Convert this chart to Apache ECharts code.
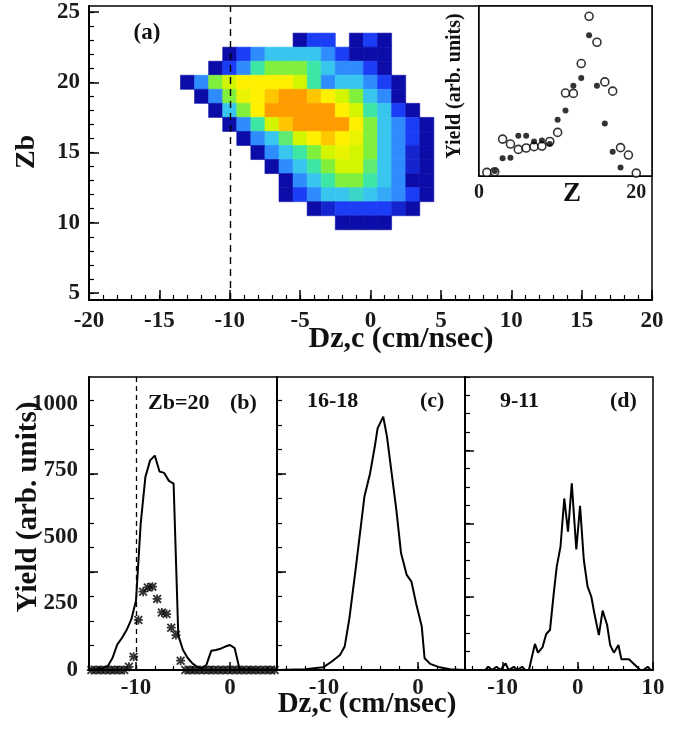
<!DOCTYPE html>
<html>
<head>
<meta charset="utf-8">
<script src="https://cdn.jsdelivr.net/npm/echarts@6/dist/echarts.min.js"></script>
<style>
  html, body { margin: 0; padding: 0; background: #fff; }
  #chart { width: 678px; height: 730px; }
</style>
</head>
<body>
<div id="chart"></div>
<script>
// ---------------- (a) Zb vs Dz,c, contour levels read on a 1x1 grid (0 = empty) ----------------
var dzCols = [-14, -13, -12, -11, -10, -9, -8, -7, -6, -5, -4, -3, -2, -1, 0, 1, 2, 3, 4, 5]
var zbRows = [23, 22, 21, 20, 19, 18, 17, 16, 15, 14, 13, 12, 11, 10]
var density = [
  [0, 0, 0, 0, 0, 0, 0, 0, 0, 1, 2, 2, 0, 1, 2, 1, 0, 0, 0, 0],
  [0, 0, 0, 0, 1, 2, 3, 4, 4, 4, 4, 3, 2, 1, 1, 1, 0, 0, 0, 0],
  [0, 0, 0, 1, 2, 3, 5, 6, 6, 6, 5, 4, 3, 3, 2, 1, 0, 0, 0, 0],
  [0, 1, 3, 6, 7, 8, 8, 8, 8, 7, 5, 3, 4, 4, 3, 2, 1, 0, 0, 0],
  [0, 0, 1, 3, 6, 7.5, 8, 8.5, 9, 9, 8.5, 8, 7, 6, 4, 3, 1, 0, 0, 0],
  [0, 0, 0, 1, 4, 6, 8, 9, 9, 9, 9, 9, 8, 7, 5, 4, 2, 1, 0, 0],
  [0, 0, 0, 0, 1, 3, 5, 7, 8.5, 9, 9, 9, 9, 8, 6, 4, 3, 2, 1, 0],
  [0, 0, 0, 0, 0, 1, 3, 4, 5.5, 7, 8, 8.5, 8, 7.5, 6, 4, 3, 2, 1, 0],
  [0, 0, 0, 0, 0, 0, 1, 3, 4, 5, 6, 7, 7.5, 7, 6, 4, 3, 1.5, 1, 0],
  [0, 0, 0, 0, 0, 0, 0, 1, 3, 4, 5, 6, 7, 7, 5.5, 4, 3, 1.5, 1, 0],
  [0, 0, 0, 0, 0, 0, 0, 0, 1, 3, 4, 5, 6, 6, 5, 4, 3, 1, 1, 0],
  [0, 0, 0, 0, 0, 0, 0, 0, 1, 2, 3, 4, 4, 4.5, 4, 3.5, 3, 2, 1, 0],
  [0, 0, 0, 0, 0, 0, 0, 0, 0, 0, 1, 1.5, 2, 2, 2, 2, 1.5, 1, 0, 0],
  [0, 0, 0, 0, 0, 0, 0, 0, 0, 0, 0, 0, 1, 1, 1, 1, 0, 0, 0, 0]
]
var levelColors = ['#0c0ca8', '#1b3df5', '#2e8cff', '#38c6ee', '#3ee6a6', '#80f03c', '#d4f500', '#fff000', '#ff9c00']

// inset: yield vs Z (arb. units)
var insetZ = [1, 2, 3, 4, 5, 6, 7, 8, 9, 10, 11, 12, 13, 14, 15, 16, 17, 18, 19, 20]
var insetOpen = [0.21, 0.25, 2.15, 1.86, 1.55, 1.63, 1.71, 1.74, 2.01, 2.54, 4.83, 4.81, 6.55, 9.3, 7.79, 5.48, 4.94, 1.65, 1.22, 0.17]
var filledZ = [2, 3, 4, 5, 6, 7, 8, 9, 10, 11, 12, 13, 14, 15, 16, 17, 18]
var insetFilled = [0.29, 1.03, 1.07, 2.35, 2.35, 2.01, 2.07, 1.86, 3.28, 3.82, 5.25, 5.7, 8.2, 5.25, 3.06, 1.41, 0.5]

// (b) Zb=20
var bDz = [-15, -14.5, -14, -13.5, -13, -12.5, -12, -11.5, -11, -10.5, -10, -9.5, -9, -8.5, -8, -7.5, -7, -6.5, -6, -5.5,
  -5, -4.5, -4, -3.5, -3, -2.5, -2, -1.5, -1, -0.5, 0, 0.5, 1, 1.5, 2, 2.5, 3, 3.5, 4, 4.5, 5]
var bYield = [2, 2, 3, 8, 15, 45, 95, 120, 150, 190, 260, 550, 725, 787, 805, 745, 740, 710, 700, 130,
  75, 45, 25, 12, 5, 20, 72, 75, 80, 88, 94, 82, 6, 3, 2, 2, 1, 1, 1, 1, 1]
var starDz = [-14.75, -14.25, -13.75, -13.25, -12.75, -12.25, -11.75, -11.25, -10.75, -10.25, -9.75, -9.25, -8.75, -8.25,
  -7.75, -7.25, -6.75, -6.25, -5.75, -5.25, -4.75, -4.25, -3.75, -3.25, -2.75, -2.25, -1.75, -1.25, -0.75, -0.25,
  0.25, 0.75, 1.25, 1.75, 2.25, 2.75, 3.25, 3.75, 4.25, 4.75]
var starYield = [0, 0, 0, 0, 0, 0, 0, 0, 12, 50, 188, 294, 310, 313,
  267, 216, 210, 159, 131, 35, 0, 0, 0, 0, 0, 0, 0, 0, 0, 0,
  0, 0, 0, 0, 0, 0, 0, 0, 0, 0]

// (c) 16-18
var cDz = [-15, -12, -10.1, -9.2, -8.3, -7.8, -7.3, -6.6, -5.7, -5.1, -4.6, -4.3, -3.7, -3.3, -2.8, -2.3, -1.8, -1.2, -0.7, -0.2, 0.4, 0.7, 1.3, 2.3, 3.4, 5]
var cYield = [0, 3, 10, 31, 56, 88, 194, 388, 651, 738, 838, 907, 951, 876, 738, 600, 438, 357, 332, 250, 163, 44, 23, 10, 3, 0]

// (d) 9-11
var dDz = [-15, -12.3, -11.9, -11.4, -10.8, -10.3, -9.6, -9.2, -8.5, -8.1, -7.4, -7.0, -6.5, -5.7, -5.3, -4.7, -4.2, -3.7, -3.2, -2.8,
  -2.3, -1.8, -1.3, -0.8, -0.2, 0.3, 0.8, 1.3, 1.8, 2.2, 2.8, 3.3, 3.9, 4.3, 4.8, 5.4, 5.8, 6.8, 8.3, 8.7, 9.3, 9.7, 10]
var dYield = [0, 0, 12, 0, 12, 0, 25, 0, 12, 0, 12, 0, 0, 98, 65, 85, 135, 150, 288, 388,
  463, 644, 519, 701, 453, 616, 413, 313, 275, 213, 131, 223, 169, 94, 65, 94, 40, 40, 0, 0, 12, 0, 0]

// tick / label positions
var mainXLabels = [-20, -15, -10, -5, 0, 5, 10, 15, 20]
var mainYLabels = [5, 10, 15, 20, 25]
var yieldLabels = [0, 250, 500, 750, 1000]
var dzLabelsBC = [-10, 0]
var dzLabelsD = [-10, 0, 10]
var insetXLabels = [0, 20]

var FONT = 'Liberation Serif'
var myChart = echarts.init(document.getElementById('chart'))

function steps(from, to, step) {
  var out = []
  for (var v = from; v <= to + 1e-9; v += step) out.push(Math.round(v * 100) / 100)
  return out
}
function pairs(xs, ys) {
  return xs.map(function (x, i) { return [x, ys[i]] })
}

// one axis with labels + long ticks, one with short ticks only
function axisPair(dim, grid, min, max, labels, majors, minors, opt) {
  var pos = dim === 'x' ? 'bottom' : 'left'
  var major = {
    type: 'value', gridIndex: grid, min: min, max: max, position: pos,
    splitLine: { show: false },
    axisLine: { show: true, onZero: false, lineStyle: { color: '#000', width: 2 } },
    axisTick: { show: true, inside: true, length: opt.major, customValues: majors, lineStyle: { color: '#000', width: 1.5 } },
    axisLabel: {
      show: labels.length > 0, customValues: labels, margin: opt.margin,
      color: '#1a1a1a', fontFamily: FONT, fontWeight: 'bold', fontSize: opt.size,
      formatter: function (v) { return String(v) }
    }
  }
  var minor = {
    type: 'value', gridIndex: grid, min: min, max: max, position: pos,
    splitLine: { show: false },
    axisLine: { show: false, onZero: false },
    axisTick: { show: true, inside: true, length: opt.minor, customValues: minors, lineStyle: { color: '#000', width: 1.2 } },
    axisLabel: { show: false }
  }
  return [major, minor]
}

var cells = []
zbRows.forEach(function (zb, r) {
  dzCols.forEach(function (dz, c) {
    if (density[r][c] > 0) cells.push([dz, zb, density[r][c]])
  })
})

function renderCell(params, api) {
  var dz = api.value(0)
  var zb = api.value(1)
  var p0 = api.coord([dz - 0.5, zb + 0.5])
  var p1 = api.coord([dz + 0.5, zb - 0.5])
  var col = api.visual('color')
  return {
    type: 'rect',
    shape: { x: p0[0], y: p0[1], width: p1[0] - p0[0], height: p1[1] - p0[1] },
    style: { fill: col, stroke: col, lineWidth: 0.6 }
  }
}

var starPath = 'path://M4 0H6V10H4Z M0 4H10V6H0Z M1.4 0L10 8.6L8.6 10L0 1.4Z M8.6 0L10 1.4L1.4 10L0 8.6Z'
var dashLine = { type: [7, 5], color: '#000', width: 1.4 }
var frame = { show: true, backgroundColor: '#fff', borderColor: '#000', borderWidth: 1.5 }

var bigTick = { major: 10, minor: 5, margin: 10, size: 23 }
var lowTick = { major: 8, minor: 4, margin: 7, size: 23 }

var xAxes = [].concat(
  axisPair('x', 0, -20, 20, mainXLabels, mainXLabels, steps(-20, 20, 1), bigTick),
  axisPair('x', 1, 0, 22, insetXLabels, [10, 20], steps(2, 20, 2), { major: 7, minor: 4, margin: 7, size: 20 }),
  axisPair('x', 2, -15, 5, dzLabelsBC, dzLabelsBC, steps(-14, 4, 2), lowTick),
  axisPair('x', 3, -15, 5, dzLabelsBC, dzLabelsBC, steps(-14, 4, 2), lowTick),
  axisPair('x', 4, -15, 10, dzLabelsD, dzLabelsD, steps(-14, 8, 2), lowTick)
)
var yAxes = [].concat(
  axisPair('y', 0, 4.5, 25.43, mainYLabels, mainYLabels, steps(5, 25, 1), { major: 10, minor: 5, margin: 9, size: 23 }),
  axisPair('y', 1, 0, 9.9, [], [5], steps(1, 9, 1), { major: 8, minor: 4, margin: 5, size: 12 }),
  axisPair('y', 2, 0, 1100, yieldLabels, [368, 736], steps(92, 1100, 92), { major: 9, minor: 5, margin: 11, size: 23 }),
  axisPair('y', 3, 0, 1100, [], [368, 736], steps(92, 1100, 92), { major: 9, minor: 5, margin: 11, size: 23 }),
  axisPair('y', 4, 0, 1100, [], [275, 550, 825], steps(68.75, 1100, 68.75), { major: 9, minor: 5, margin: 11, size: 23 })
)

function txt(text, x, y, size, opts) {
  opts = opts || {}
  return {
    type: 'text', x: x, y: y, rotation: opts.rot || 0, z: 100,
    style: {
      text: text, fill: '#111', font: 'bold ' + size + 'px "' + FONT + '"',
      align: opts.align || 'center', verticalAlign: 'middle',
      textAlign: opts.align || 'center', textVerticalAlign: 'middle'
    }
  }
}

var option = {
  animation: false,
  backgroundColor: '#fff',
  grid: [
    Object.assign({ left: 89, top: 6, width: 563, height: 294 }, frame),
    Object.assign({ left: 479, top: 6, width: 173, height: 170 }, frame, { z: 3 }),
    Object.assign({ left: 89, top: 377, width: 188, height: 293 }, frame),
    Object.assign({ left: 277, top: 377, width: 188, height: 293 }, frame),
    Object.assign({ left: 465, top: 377, width: 188, height: 293 }, frame)
  ],
  xAxis: xAxes,
  yAxis: yAxes,
  visualMap: {
    type: 'continuous', show: false, seriesIndex: 0, dimension: 2,
    min: 1, max: 9, inRange: { color: levelColors }
  },
  series: [
    {
      type: 'custom', xAxisIndex: 0, yAxisIndex: 0,
      renderItem: renderCell, data: cells, clip: true,
      encode: { x: 0, y: 1 },
      markLine: { silent: true, symbol: 'none', label: { show: false }, lineStyle: dashLine, data: [{ xAxis: -10 }] }
    },
    {
      type: 'scatter', xAxisIndex: 2, yAxisIndex: 2, z: 5,
      symbol: 'circle', symbolSize: 8,
      itemStyle: { color: '#fff', borderColor: '#000', borderWidth: 1.6 },
      data: pairs(insetZ, insetOpen)
    },
    {
      type: 'scatter', xAxisIndex: 2, yAxisIndex: 2, z: 6,
      symbol: 'circle', symbolSize: 6,
      itemStyle: { color: '#000' },
      data: pairs(filledZ, insetFilled)
    },
    {
      type: 'line', xAxisIndex: 4, yAxisIndex: 4, showSymbol: false,
      lineStyle: { color: '#000', width: 2 },
      data: pairs(bDz, bYield),
      markLine: { silent: true, symbol: 'none', label: { show: false }, lineStyle: { type: [5, 4], color: '#000', width: 1.3 }, data: [{ xAxis: -10 }] }
    },
    {
      type: 'scatter', xAxisIndex: 4, yAxisIndex: 4,
      symbol: starPath, symbolSize: 9,
      itemStyle: { color: '#000' },
      data: pairs(starDz, starYield)
    },
    {
      type: 'line', xAxisIndex: 6, yAxisIndex: 6, showSymbol: false,
      lineStyle: { color: '#000', width: 2 },
      data: pairs(cDz, cYield)
    },
    {
      type: 'line', xAxisIndex: 8, yAxisIndex: 8, showSymbol: false,
      lineStyle: { color: '#000', width: 2 },
      data: pairs(dDz, dYield)
    }
  ],
  graphic: [
    txt('Zb', 27, 152, 28, { rot: Math.PI / 2 }),
    txt('(a)', 147, 33, 23),
    txt('Dz,c (cm/nsec)', 401, 339, 30),
    txt('Yield (arb. units)', 455, 86, 20, { rot: Math.PI / 2 }),
    txt('Z', 572, 194, 27),
    txt('Zb=20', 148, 403, 22, { align: 'left' }),
    txt('(b)', 230, 403, 22, { align: 'left' }),
    txt('16-18', 307, 401, 22, { align: 'left' }),
    txt('(c)', 420, 401, 22, { align: 'left' }),
    txt('9-11', 500, 401, 22, { align: 'left' }),
    txt('(d)', 610, 401, 22, { align: 'left' }),
    txt('Dz,c (cm/nsec)', 367, 705, 29),
    txt('Yield (arb. units)', 29, 507, 29, { rot: Math.PI / 2 })
  ]
}

myChart.setOption(option)
</script>
</body>
</html>
